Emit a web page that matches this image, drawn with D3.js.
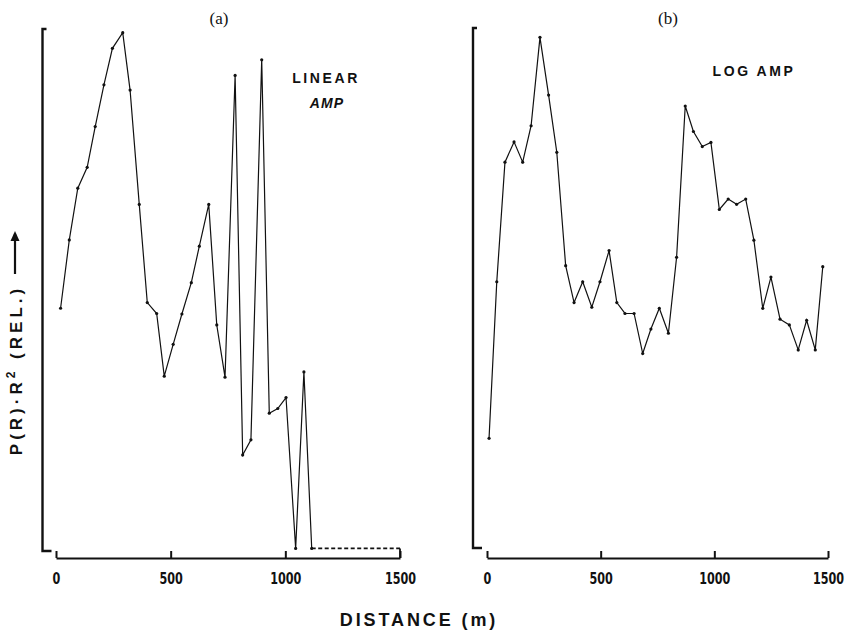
<!DOCTYPE html>
<html><head><meta charset="utf-8">
<script src="https://cdn.jsdelivr.net/npm/d3@7"></script>
<style>
body{margin:0;background:#fff;}
svg{display:block;}
.tick-lbl{font-family:"DejaVu Sans","Liberation Sans",sans-serif;font-weight:bold;font-size:16px;fill:#111;}
.lbl{font-family:"Liberation Sans","Arial",sans-serif;font-weight:bold;fill:#111;}
.ser{font-family:"Liberation Serif","Times New Roman",serif;fill:#111;}
</style></head>
<body>
<svg id="c" width="845" height="632"></svg>
<script>
// ---- data (distance in m, relative P(R)·R² 0–100) ----
const linearDist = [20,58,95,136,171,209,246,291,323,363,398,439,472,511,549,590,625,666,701,737,781,814,850,897,930,967,1003,1045,1081,1115];
const linearVal  = [46.5,59.6,69.5,73.5,81.3,89.3,96.3,99.3,88.3,66.4,47.6,45.5,33.5,39.6,45.4,51.4,58.4,66.4,43.3,33.3,91.1,18.4,21.3,94.1,26.4,27.3,29.4,0.5,34.3,0.5];
const linearTailDist = [1115,1500];
const linearTailVal  = [0.5,0.5];

const logDist = [9,43,79,119,157,194,233,271,307,346,383,421,461,497,537,571,607,647,685,721,758,798,834,872,908,947,985,1022,1061,1098,1138,1174,1213,1249,1289,1330,1369,1406,1444,1477];
const logVal  = [21.1,51.2,74.2,78.1,74.2,81.2,98.2,87.1,76.1,54.3,47.2,51.2,46.3,51.2,57.2,47.2,45.1,45.1,37.4,42.1,46.1,41.3,55.9,85.0,80.1,77.2,78.0,65.1,67.1,66.1,67.1,59.2,46.1,52.1,44.0,42.9,38.1,43.8,38.1,54.1];

const xTicks = [0,500,1000,1500];
const panelTitles = ["(a)","(b)"];
const yLabelMain = "P(R)·R";
const yLabelSup = "2";
const yLabelEnd = " (REL.)";
const xLabel = "DISTANCE (m)";

const svg = d3.select("#c");
svg.append("rect").attr("width",845).attr("height",632).attr("fill","#fff");

const panels = [
  {title:panelTitles[0], titleX:219, yAxisX:42.5, yTop:29, yBot:551, x0:56, x1:400, axisY:558,
   dist:linearDist, val:linearVal, tail:{dist:linearTailDist,val:linearTailVal}},
  {title:panelTitles[1], titleX:668, yAxisX:473, yTop:28, yBot:548, x0:487, x1:828, axisY:558,
   dist:logDist, val:logVal, tail:null}
];

panels.forEach(p=>{
  const g = svg.append("g");
  const x = d3.scaleLinear().domain([0,1500]).range([p.x0,p.x1]);
  const y = d3.scaleLinear().domain([0,100]).range([p.yBot,p.yTop]);

  // y axis (bracket)
  g.append("path")
   .attr("d",`M${p.yAxisX+4},${p.yTop}H${p.yAxisX}V${p.yBot}H${p.yAxisX+9}`)
   .attr("fill","none").attr("stroke","#111").attr("stroke-width",2.4);

  // x axis via d3 axis
  const ax = d3.axisBottom(x).tickValues(xTicks).tickSize(0).tickFormat("");
  const axG = g.append("g").attr("transform",`translate(0,${p.axisY})`).call(ax);
  axG.select(".domain").attr("stroke","#111").attr("stroke-width",2.2);
  axG.selectAll(".tick line").attr("y2",-7).attr("stroke","#111").attr("stroke-width",2);
  axG.selectAll(".tick").append("text").attr("class","tick-lbl")
     .attr("text-anchor","middle").attr("transform","translate(0,26) scale(0.7,1)")
     .attr("fill","#111").text(d=>d);

  // title
  g.append("text").attr("class","ser").attr("x",p.titleX).attr("y",24)
   .attr("text-anchor","middle").attr("font-size",17).text(p.title);

  const pts = p.dist.map((d,i)=>[d,p.val[i]]);
  const line = d3.line().x(d=>x(d[0])).y(d=>y(d[1]));
  g.append("path").attr("d",line(pts)).attr("fill","none")
   .attr("stroke","#111").attr("stroke-width",1.2).attr("stroke-linejoin","miter");
  g.selectAll(".pt").data(pts).enter().append("circle")
   .attr("cx",d=>x(d[0])).attr("cy",d=>y(d[1])).attr("r",1.6).attr("fill","#111");

  if(p.tail){
    const tp = p.tail.dist.map((d,i)=>[d,p.tail.val[i]]);
    g.append("path").attr("d",line(tp)).attr("fill","none")
     .attr("stroke","#111").attr("stroke-width",1.6).attr("stroke-dasharray","4,2.5");
    g.append("line").attr("x1",x(1500)).attr("x2",x(1500))
     .attr("y1",y(0.5)).attr("y2",p.axisY).attr("stroke","#111").attr("stroke-width",1.8);
  }
});

// annotations
svg.append("text").attr("class","lbl").attr("x",326).attr("y",83).attr("text-anchor","middle")
   .attr("font-size",14).attr("letter-spacing",2.6).text("LINEAR");
svg.append("text").attr("class","lbl").attr("x",327).attr("y",108).attr("text-anchor","middle")
   .attr("font-size",14).attr("font-style","italic").attr("letter-spacing",1.2).text("AMP");
svg.append("text").attr("class","lbl").attr("x",754).attr("y",76).attr("text-anchor","middle")
   .attr("font-size",14).attr("letter-spacing",2.6).text("LOG  AMP");

// axis titles
svg.append("text").attr("class","lbl").attr("x",419).attr("y",626).attr("text-anchor","middle")
   .attr("font-size",18).attr("letter-spacing",2.9).text(xLabel);

const yl = svg.append("g").attr("transform","translate(22,370) rotate(-90)");
const yt = yl.append("text").attr("class","lbl").attr("x",0).attr("y",0).attr("text-anchor","middle")
  .attr("font-size",17).attr("letter-spacing",4);
yt.append("tspan").text(yLabelMain);
yt.append("tspan").attr("dy",-7).attr("font-size",12).text(yLabelSup);
yt.append("tspan").attr("dy",7).text(yLabelEnd);
// arrow
yl.append("line").attr("x1",96).attr("x2",136).attr("y1",-7).attr("y2",-7)
  .attr("stroke","#111").attr("stroke-width",2.2);
yl.append("path").attr("d","M139,-7 L129,-11.5 L129,-2.5 Z").attr("fill","#111");
</script>
</body></html>
